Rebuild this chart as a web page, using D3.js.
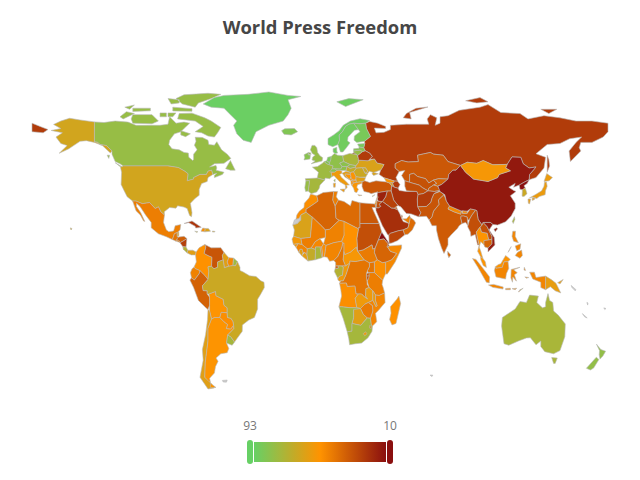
<!DOCTYPE html>
<html>
<head>
<meta charset="utf-8">
<script src="https://d3js.org/d3.v7.min.js"></script>
<style>
html, body { margin: 0; padding: 0; background: #fff; }
svg { display: block; }
</style>
</head>
<body>
<svg id="chart" width="640" height="480"></svg>
<script>
// press freedom score per country
var asiaNames = ["Russia","Turkey","Georgia","Armenia","Azerbaijan","Kazakhstan","Uzbekistan","Turkmenistan","Kyrgyzstan","Tajikistan","Afghanistan","Pakistan","Iran","Iraq","Syria","Lebanon","Israel","Jordan","Saudi Arabia","Yemen","Oman","UAE","Qatar","Kuwait","India","Bangladesh","Nepal","Bhutan","Sri Lanka","China","Mongolia","North Korea","South Korea","Japan","Taiwan","Myanmar","Thailand","Laos","Cambodia","Vietnam","Malaysia","Indonesia","Philippines","Papua New Guinea","Timor-Leste","Cyprus"];
var asiaScores = [24,33,52,60,24,33,31,30,36,33,24,32,21,26,16,44,52,30,20,27,39,45,35,35,34,30,48,50,38,13,54,10,66,57,75,30,52,30,37,14,52,47,47,58,68,70];

var europeNames = ["Norway","Sweden","Finland","Denmark","Iceland","United Kingdom","Ireland","France","Spain","Portugal","Belgium","Netherlands","Germany","Switzerland","Austria","Italy","Poland","Czechia","Slovakia","Hungary","Croatia","Bosnia","Serbia","Montenegro","Albania","North Macedonia","Greece","Bulgaria","Romania","Moldova","Ukraine","Belarus","Lithuania","Latvia","Estonia"];
var europeScores = [91,90,88,90,86,80,84,78,76,80,85,88,82,84,82,56,75,83,78,68,58,52,52,52,51,52,53,60,66,66,62,24,80,84,88];

var africaNames = ["Morocco","Mauritania","Algeria","Tunisia","Libya","Egypt","Sudan","South Sudan","Eritrea","Ethiopia","Djibouti","Somalia","Kenya","Uganda","Tanzania","Rwanda","Burundi","DR Congo","Congo","Gabon","Equatorial Guinea","Cameroon","Central African Rep.","Chad","Niger","Nigeria","Mali","Burkina Faso","Benin","Togo","Ghana","Ivory Coast","Liberia","Sierra Leone","Guinea","Guinea-Bissau","Senegal","Angola","Zambia","Malawi","Mozambique","Zimbabwe","Botswana","Namibia","South Africa","Lesotho","Eswatini","Madagascar"];
var africaScores = [50,62,37,45,39,33,30,44,10,37,22,48,50,42,45,32,30,42,56,72,35,42,54,51,46,47,45,48,50,48,75,68,58,60,47,55,55,50,56,57,47,44,60,76,76,56,45,51];

var americasNames = ["Canada","United States","Greenland","Mexico","Guatemala","Belize","Honduras","El Salvador","Nicaragua","Costa Rica","Panama","Cuba","Jamaica","Haiti","Dominican Rep.","Colombia","Venezuela","Guyana","Suriname","French Guiana","Ecuador","Peru","Bolivia","Chile","Argentina","Paraguay","Uruguay","Brazil"];
var americasScores = [80,64,92,45,42,60,35,44,25,72,60,22,70,50,62,51,32,60,48,78,46,36,52,60,52,50,76,66];

var oceaniaNames = ["Australia","New Zealand"];
var oceaniaScores = [75,81];

// places without a score, drawn grey
var noDataNames = ["Western Sahara","Falkland Is.","Kerguelen","New Caledonia","Vanuatu","Fiji","Solomon Is."];

var legendEnds = [93, 10];
var titleText = "World Press Freedom";

// rough lon,lat outlines, one string per ring
var outlines = {
  "Russia": ["28,59.5 27.8,60.5 31.5,62.8 29,66.5 28.5,69 31,69.8 36,69 41,67.5 41,66.5 34,66.7 35,64.5 40,64.7 44,66 44,68 54,68.5 60,68.5 68,68.5 67,71 69,73 73,71.5 72,68 75,69 75,72 80,72.5 87,75 100,76.5 105,77.7 113,74 125,73.5 130,71 140,72.5 150,71.5 160,70 170,70 180,69 180,65 177,62.5 170,60 163,60 162,57.5 163,56 156.5,51 155.7,56 160,60 163.5,62.5 156,61.7 150,59.5 142,59 135,54.7 141,53 140,48 135,43.5 130.7,42.5 131,45 135,48.5 130.7,48 127,50 125.5,53 120,53.2 117,49.7 108,49.5 102,51.5 98,50.2 92,50.7 87.8,49.2 80,51 77,54 71,54.5 69,55.3 61,54 61.5,51 55,50.8 51,51.5 47,50 47,48 49.5,46.4 47.5,43.5 48.5,41.8 46.5,41.9 40,43.4 37,45 38,47.2 40,49.6 35.6,50.3 34,52.2 30.8,52 32.7,53.4 31,55 28.2,56.1 27.3,57.5",
    "-180,69 -175,67.5 -170,66 -173,64.5 -180,65", "142,54 143,52 143.5,49 142,46 142,50", "52,71.5 57,71 56,74 67.5,76.6 60,76 54,73.5", "91,79.5 100,81 105,79 98,78.5", "138,75.5 148,75.5 143,73.5", "20,54.4 22.7,54.4 22.7,55 20.5,55"],
  "Turkey": ["26.3,41.7 28,42 31,41.2 35,42 41.5,41.5 43.5,41 44.8,39.7 44.5,37.2 42,37.2 36.5,36.5 36,36.8 32,36 30.5,36.5 27.5,37 26.3,39.2 26.3,40.4"],
  "Georgia": ["40,43.4 46.5,41.9 46,41 43.5,41 41.5,41.5"],
  "Armenia": ["43.5,41 45,41.2 46.5,39 44.8,39.7"],
  "Azerbaijan": ["46.5,41.9 48.5,41.8 50,40.3 48.8,38.5 46.5,39 45,41.2 46,41"],
  "Kazakhstan": ["47,50 51,51.5 55,50.8 61.5,51 61,54 69,55.3 71,54.5 77,54 80,51 87.8,49.2 85,47 83,47 80.5,45 80,42.8 74,43 70.8,42.3 68,41 66,43 61,44 58.5,45.5 56,45 56,41.3 53,42 51,44.5 53,46.8 49.5,46.4 47,48"],
  "Uzbekistan": ["56,45 58.5,45.5 61,44 66,43 68,41 70.8,42.3 73,40.8 71,40 68,38.5 67.5,37.3 64,38.8 62,40 56,41.3"],
  "Turkmenistan": ["53,42 56,41.3 62,40 64,38.8 67.5,37.3 64.5,36 61.2,35.6 60.5,37 54,37.3 53,39.5"],
  "Kyrgyzstan": ["70.8,42.3 74,43 80,42.8 76,40.3 73.5,39.5 71,40 73,40.8"],
  "Tajikistan": ["67.5,37.3 68,38.5 71,40 73.5,39.5 75,37.5 71.5,37"],
  "Afghanistan": ["61.2,35.6 64.5,36 67.5,37.3 71.5,37 75,37.5 71.3,36 70,33.8 69.3,31.9 66.5,30 61,29.8 60.8,33.5"],
  "Pakistan": ["61,29.8 66.5,30 69.3,31.9 70,33.8 71.3,36 75,37 77.5,35.5 74,33 74.5,31 71,27.8 70,25 68.2,23.7 66.5,25.4 61.6,25.2 63,27"],
  "Iran": ["44.8,39.7 46.5,39 48.8,38.5 49.5,37.5 54,37 60.5,37 61.2,35.6 60.8,33.5 61,29.8 63,27 61.6,25.2 57,26.5 54,26.7 50.5,29.8 48.8,30.4 46,33 44.5,37.2"],
  "Iraq": ["42,37.2 44.5,37.2 46,33 48.8,30.4 47.7,30 46.5,29.1 44.7,29.2 39,32.3 41,34.5"],
  "Syria": ["36,36.8 36.5,36.5 42,37.2 41,34.5 39,32.3 36.5,32.4 35.8,33.5 35.8,35.7"],
  "Lebanon": ["35.1,33.1 35.8,33.5 36.4,34.5 35.9,34.6"],
  "Israel": ["34.3,31.2 34.9,29.5 35.5,31.5 35.5,33 35.1,33.1"],
  "Jordan": ["35,29.4 36.5,29.3 38,30 37,31 39,32.3 36.5,32.4 35.5,32.7 35.5,31.5"],
  "Saudi Arabia": ["34.9,29.4 36.5,29.3 38,30 37,31 39,32.3 44.7,29.2 46.5,29.1 48.5,28.5 50,26.5 51,24.5 52,22.9 55.7,22 55,20 52,19 49,18.6 44,17.4 43,16.7 42.5,16.5 39,21 37,24.5 35,28"],
  "Yemen": ["43.2,12.7 43,16.7 44,17.4 49,18.6 52,19 53,16.7 48.5,14 45,12.9"],
  "Oman": ["52,19 55,20 55.7,22 56.4,24.9 58.8,23.5 59.8,22.3 57.7,19 55,17 53,16.7"],
  "UAE": ["51.5,24.2 55.7,22 56.4,24.9 56,25.9 54,24.2"],
  "Qatar": ["51,24.6 51.6,25 51.2,26.1 50.8,25.5"],
  "Kuwait": ["47.7,30 48.5,28.5 46.5,29.1"],
  "India": ["68.2,23.7 70,25 71,27.8 74.5,31 74,33 77.5,35.5 79,32.5 81,30.2 80,28.8 84,27.4 88,26.4 88.2,28 89,26.8 92,26.8 94,28.9 97.3,28.3 95,26 93.5,24 92.3,23.5 92,25 89.8,25.5 88.2,25.5 88,24.5 88.8,22 87,21 86,19.8 82,16.7 80,15 80,12 77.5,8 76,10.5 74,15 72.8,19 72.7,21 70,21 69,22.5"],
  "Bangladesh": ["88.2,25.5 89.8,25.5 92,25 92.5,21 91,22.5 88.8,22 88,24.5"],
  "Nepal": ["80,28.8 81,30.2 88.2,27.9 88,26.4 84,27.4"],
  "Bhutan": ["89,26.8 89,28 92,27.8 92,26.8"],
  "Sri Lanka": ["79.8,9 81.8,7.3 80.5,6 79.8,7.5"],
  "China": ["73.7,39.5 76,40.3 80,42.8 80.5,45 83,47 85,47 87.8,49.2 91,46 96,42.8 105,41.7 111,43.5 112,45 119,46.7 116,48 117,49.7 120,53.2 125.5,53 127,50 130.7,48 135,48.5 131,45 130.7,42.5 128,41.5 124.5,40 121,39 122,40.8 118,39 121,37.5 122.5,37 119,35 122,31.5 122,29 119.5,25.5 116,22.8 111,21.3 108,21.6 106.5,22.5 102,22.5 101.3,21.2 98.8,24 98,28 97.3,28.3 94,28.9 92,27.8 89,28 88.2,27.9 81,30.2 79,32.5 78,35.5 75,37",
    "108.7,19.3 110.5,20 111,19.5 109.5,18.2"],
  "Mongolia": ["87.8,49.2 92,50.7 98,50.2 102,51.5 108,49.5 117,49.7 116,48 119,46.7 112,45 111,43.5 105,41.7 96,42.8 91,46"],
  "North Korea": ["124.5,40 128,41.5 130.7,42.5 129.5,40.8 127.5,39.7 128.3,38.6 126.5,37.8 125,38"],
  "South Korea": ["126.5,37.8 128.3,38.6 129.4,36 127.5,34.7 126.3,34.8"],
  "Japan": ["130.9,34 135,35.7 138.5,37.3 140,39.5 140.3,41.3 141.5,41.4 142,39.5 141,37.5 140.7,35.5 137,34.6 135.5,33.7 132.5,34.3", "130,33.5 131.7,33.5 131,31.2 130.2,31.5", "140,41.7 141.7,45.4 145.3,43.5 143.2,42", "132.5,33.8 134.5,34.2 134,33.2 132.7,32.8"],
  "Taiwan": ["120.2,23 121.5,25.2 121.8,24 120.8,22"],
  "Myanmar": ["92.3,20.5 94,18 94.3,16 97,16.9 98.5,12 99.5,12 98.5,15 97.7,18 100,20.3 101.3,21.2 98.8,24 98,28 97.3,28.3 95,26 93.5,24"],
  "Thailand": ["97.7,18 98.5,15 99.5,12 98.5,9 100.3,6.5 101.8,5.7 100.5,9 99.5,11 100.5,13.5 102.5,12 102.5,14 105.5,14.3 104.5,17.5 101,18 100,20.3"],
  "Laos": ["100,20.3 101.3,21.2 102,22.5 104.5,20.5 107.5,16 107.5,14.7 105.5,14.3 104.5,17.5 101,18"],
  "Cambodia": ["102.5,12 103,11 105,10.5 107.5,12.5 107.5,14.7 105.5,14.3 102.5,14"],
  "Vietnam": ["102,22.5 106.5,22.5 108,21.6 105.7,19 108.9,15.5 109.3,12 105,8.7 105,10.5 107.5,12.5 107.5,16 104.5,20.5"],
  "Malaysia": ["100.3,6.5 101.8,5.7 103.4,4 104,1.4 102,2.3 100.5,5", "109.6,1.8 111.5,2.8 113,3.2 116,7 119,5.2 117.5,4.2 115,4 114,1.5 110,1"],
  "Indonesia": ["95.3,5.6 97.5,5.2 104,-1 106,-3 105.8,-5.8 104,-5.5 98.7,1.5", "105.3,-6.8 108.5,-6.5 114.5,-7.7 114.4,-8.7 108,-7.9", "109.6,1.8 110,1 114,1.5 115,4 117.5,4.2 118,1 116.5,-1.5 116,-4 110,-3 109,0", "119.5,0.5 125,1.5 121,0.3 123.3,-1 121.5,-2 122.8,-5 120.5,-3 120.3,-5.5 119.3,-3.5", "131,-0.8 134,-0.8 135,-3.3 141,-2.6 141,-9 138,-8 138,-5.5 133,-4", "116,-8.4 119,-8.3 119,-9 116,-9", "120,-8.5 123,-8.3 122,-9", "124,-10 125,-9 124.5,-10", "127.7,1.5 128.5,0 127.5,0.2", "128,-3 130.5,-3.3 129,-3.6"],
  "Philippines": ["120.5,18.4 122.2,18.4 122,16 124,13 121,13.7 120,16", "122,7 123.5,8.5 126,9.6 126.5,7 125,5.7", "122,11.5 125.5,12.5 125,10 123,9.2", "117.5,8.5 119.5,11.2 118,9"],
  "Papua New Guinea": ["141,-2.6 145,-4.5 147.5,-6 150.5,-10.5 147,-9.5 144,-7.6 141,-9", "148.5,-5.7 152,-4.2 150,-6.3"],
  "Timor-Leste": ["125,-9 127,-8.3 125,-9.5"],
  "Cyprus": ["32.5,34.8 34.5,35.6 33,34.6"],

  "Norway": ["5,59 5,61.8 8.5,63.5 12,65.5 14.5,68 19,70 25,71.1 31,70.2 28.5,69 25,68.7 21,69 18,68.5 16,67.5 14,65 12,63.5 12.2,61 11.2,59 8,58 5.7,58.7", "10.5,79 18,80.5 27,80 20,78 16,76.8"],
  "Sweden": ["11.2,59 12.2,61 12,63.5 14,65 16,67.5 18,68.5 21,69 24,66 21.5,65.7 17.5,62.5 17.2,60.7 18.8,59.8 16.5,57.5 14.3,55.5 12.8,55.5"],
  "Finland": ["21,69 25,68.7 28.5,69 29,66.5 31.5,62.8 27.8,60.5 23,60 21.3,61 21.5,63 25,65 24,66"],
  "Denmark": ["8.2,57 10.5,57.7 10.5,56 11,55 9.5,54.8 8.2,55.5"],
  "Iceland": ["-24,65.5 -22,66.4 -16,66.5 -14,65 -18,63.5 -22.5,63.8"],
  "United Kingdom": ["-5.5,50 1.3,51.3 1.7,52.8 0,53.7 -1.5,55.3 -2,57.5 -3.2,58.6 -5,58.6 -6,56.5 -4.8,54.8 -3,54 -4.5,53.2 -5,51.8 -3,51.3", "-7.5,54.2 -5.5,54.4 -6,55.2 -7.2,55.2"],
  "Ireland": ["-10,51.8 -6.3,52.2 -6,54 -7.5,54.2 -7.2,55.3 -10,54.2 -9.5,53"],
  "France": ["-4.7,48.4 -1.5,48.7 1.5,50.2 2.6,51 4.2,50 8.2,49 7.6,47.6 7,46 7.5,44 6,43 3.2,43.3 3,42.4 -1.7,43.3 -1,46", "8.6,42.2 9.5,42.9 9.4,41.5"],
  "Spain": ["-9.2,43 -1.7,43.3 3,42.4 0,40 -0.5,38.5 -2,36.8 -5.5,36 -7.4,37.2 -7,39.5 -6.5,42 -8.8,42"],
  "Portugal": ["-8.8,42 -6.5,42 -7,39.5 -7.4,37.2 -9,37 -9.5,38.8"],
  "Belgium": ["2.6,51 4.2,51.4 6,50.5 5.8,49.5 4.2,50"],
  "Netherlands": ["4.2,51.4 4.8,53 7,53.4 6.8,52 6,50.5"],
  "Germany": ["6,50.5 6.8,52 7,53.4 9,54.8 11,54 14.2,53.8 14.8,51 12.3,50.3 13.8,48.7 13,47.5 7.6,47.6 8.2,49 5.8,49.5"],
  "Switzerland": ["6,46.2 7.6,47.6 9.6,47.5 10.5,46.7 9,46"],
  "Austria": ["9.6,47.5 13,47.5 13.8,48.7 17,48.7 16.2,46.8 12,46.8 10.5,46.8"],
  "Italy": ["7,46 7.5,44 8.8,44.4 10.5,43 12.5,41.5 15.8,40 16,38 17,39 16.6,40 18.4,40 16,41.9 13.5,43.6 12.3,45 13.7,45.6 13.7,46.5 12,47 10.5,46.8 9,46", "12.5,38 15.6,38.2 15,36.7", "8.3,40.8 9.7,41 9.5,39 8.5,39"],
  "Poland": ["14.2,53.8 18.5,54.8 23,54.3 24,52.5 24,50.5 22.5,49.1 18.8,49.6 14.8,51"],
  "Czechia": ["12.3,50.3 14.8,51 18.8,49.6 17,48.7 13.8,48.7"],
  "Slovakia": ["17,48.7 18.8,49.6 22.5,49.1 22,48.4 18.8,47.8"],
  "Hungary": ["16.2,46.8 17,48.7 18.8,47.8 22,48.4 22.8,48 21,46.2 18.8,45.9"],
  "Croatia": ["13.7,45.5 16.3,46.5 19,45.9 19,45 15.8,45.2 15.8,44.5 18.5,42.5 15.5,43.8 14.5,45"],
  "Bosnia": ["15.8,45.2 19,45 19.4,44 18.5,42.5 15.8,44.5"],
  "Serbia": ["19,45.9 21,46.2 22.5,44.5 22.5,42.5 20.5,42.3 19.3,43.5 19.4,44 19,45"],
  "Montenegro": ["18.5,42.5 19.3,43.5 20.3,42.8 19.3,42"],
  "Albania": ["19.3,42 20.5,42.5 20.8,40.9 20,39.7 19.4,40.5"],
  "North Macedonia": ["20.5,42.3 22.5,42.3 22.8,41.3 20.8,40.9"],
  "Greece": ["20,39.7 20.8,40.9 22.8,41.3 26.3,41.7 26,40.8 23.5,40.2 23,39 24,38 23,36.5 21.7,36.8 21,38.5", "23.6,35.5 26.3,35.2 24.5,35"],
  "Bulgaria": ["22.5,42.5 22.5,44 25,43.7 28.5,43.6 27.8,42 26.3,41.7 22.8,41.3"],
  "Romania": ["21,46.2 22.8,48 26.5,48.2 28.2,45.5 29.7,45.2 28.6,43.8 25,43.7 22.5,44"],
  "Moldova": ["26.5,48.2 28.5,48.1 30,46.4 28.2,45.5"],
  "Ukraine": ["22,48.4 22.5,49.1 24,50.5 24,51.7 30,51.4 34,52.2 35.6,50.3 40,49.6 38.2,47.2 35,46.3 33.5,46 36.5,45.3 33.5,44.5 32.5,45.3 33,46 30.8,46.5 29.7,45.3 28.2,45.5 30,46.4 28.5,48.1 26.5,48.2 22.8,48"],
  "Belarus": ["24,51.7 24,52.5 23.5,53.9 26.6,55.7 28.2,56.1 31,55 32.7,53.4 30.8,52 30,51.4"],
  "Lithuania": ["21,56 25,56.4 26.6,55.7 23.5,53.9 23,54.3 21,55.2"],
  "Latvia": ["21,57 24.3,57.2 24.4,57.9 27.3,57.5 28.2,56.1 26.6,55.7 25,56.4 21,56"],
  "Estonia": ["23.5,59.2 28,59.5 27.3,57.5 24.4,57.9 24,58.4"],

  "Morocco": ["-5.9,35.8 -2,35 -1.2,32.5 -3.5,31.3 -8.7,28.7 -8.7,27.3 -12,26 -13,24.5 -15,24 -14.5,26 -13,27.7 -10,29.5 -9.8,31.5 -6.9,34"],
  "Western Sahara": ["-15,24 -13,24.5 -12,26 -12,23.5 -13,23 -14,22 -17,21.3 -16,23.7"],
  "Mauritania": ["-17,21.3 -14,22 -13,23 -12,23.5 -12,26 -8.7,27.3 -4.8,25 -6,15.5 -12,15 -16.5,16 -16,19"],
  "Algeria": ["-8.7,28.7 -3.5,31.3 -1.2,32.5 -2,35 2,36.5 8.6,37 8,33 9.5,30.2 10,24.5 12,23.5 6,19.3 3.3,19 1.2,20.7 -4.8,25 -8.7,27.3"],
  "Tunisia": ["8.6,37 11,37 10.2,34.5 11.5,33 9.5,30.2 8,33"],
  "Libya": ["9.5,30.2 11.5,33 15,32.3 19,30.3 20,32.8 25,31.7 25,20 24,20 24,19.5 15,23 12,23.5 10,24.5"],
  "Egypt": ["25,31.7 32,31.3 34.3,31.2 34.9,29.5 32.5,29.5 34,27 37,22 25,22"],
  "Sudan": ["25,22 37,22 38.6,18 36.5,14.3 34.5,10.5 33,10 32.5,12 27,9.6 23.5,9 23,15 24,19.5 24,20 25,20"],
  "South Sudan": ["23.5,9 27,9.6 32.5,12 33,10 34.5,10.5 34,8.5 35.8,5 34,4 30.8,3.6 27.5,5"],
  "Eritrea": ["36.5,14.3 38.6,18 43.2,12.7 42.7,12.4 40,14.8"],
  "Ethiopia": ["34.5,10.5 36.5,14.3 40,14.8 42.7,12.4 42.3,11 44,9 48,8 44.9,5 41.9,4 39,3.6 35.8,5 34,8.5"],
  "Djibouti": ["41.8,11 42.7,12.4 43.3,11.5"],
  "Somalia": ["42.3,11 43.5,11.5 51,12 51,10.5 47,4 42,-1.7 41,-1.5 41,3.9 44.9,5 48,8 44,9"],
  "Kenya": ["34,4 35.8,5 39,3.6 41,3.9 41,-1.5 39.2,-4.6 34,-1 34,1"],
  "Uganda": ["30,-1 34,-1 34,1 34,4 30.8,3.6 31,2 29.7,0"],
  "Tanzania": ["30,-1 34,-1 39.2,-4.6 38.8,-6.5 39.5,-8 40.4,-10.5 37,-11.7 34.7,-11.5 33,-9.5 30.7,-8 29.5,-5 30,-3"],
  "Rwanda": ["29,-1.5 30.5,-1 30.8,-2.5 29,-2.7"],
  "Burundi": ["29,-2.7 30.8,-2.5 30,-4.5 29.3,-4.4"],
  "DR Congo": ["12.2,-6 13,-4.8 14.5,-4.8 16.2,-2 17.5,1 18.6,3.5 18.6,4.5 22,4.2 27.5,5 30.8,3.6 31,2 29.7,0 29,-1.5 29,-2.7 29.3,-4.4 29.5,-6.5 30.7,-8 28.7,-8.5 28.5,-12 29.8,-13.4 28,-12.5 26,-11 24,-11 22.5,-11 21.8,-7.3 17,-7.5 16.5,-5.9"],
  "Congo": ["11.2,-4.5 12.2,-5 13,-4.8 14.5,-4.8 16.2,-2 17.5,1 18.6,3.5 16,2.2 13.2,2.2 14.5,1.5 14,-2.2 12,-2.7 11.2,-3.8"],
  "Gabon": ["9,-0.5 9.5,1 11.3,1 11.3,2.2 13.2,2.2 14.5,1.5 14,-2.2 12,-2.7 11.2,-3.8"],
  "Equatorial Guinea": ["9.5,1 11.3,1 11.3,2.2 9.8,2.2"],
  "Cameroon": ["8.6,4.7 9.7,3.9 9.8,2.2 16,2.2 14.5,5 15,9 15,12.9 14.2,12.8 13.5,10.5 11,6.5"],
  "Central African Rep.": ["14.5,5 16,2.2 18.6,3.5 18.6,4.5 22,4.2 27.5,5 23.5,9 22.8,11 18.9,8.6 15.5,7.5 15,9"],
  "Chad": ["14.2,12.8 15,12.9 15,9 15.5,7.5 18.9,8.6 22.8,11 23.5,9 23,15 24,19.5 15,23 14,22.5 15,16.5 13.5,13.7"],
  "Niger": ["3.3,15.4 3.3,19 6,19.3 12,23.5 15,23 15,16.5 13.5,13.7 8.5,13 3.7,11.7 2.2,12.5"],
  "Nigeria": ["2.7,6.4 3.7,11.7 8.5,13 13.5,13.7 14.2,12.8 13.5,10.5 11,6.5 8.6,4.7 6,4.3 4.5,6.2"],
  "Mali": ["-12,15 -6,15.5 -4.8,25 1.2,20.7 3.3,19 3.3,15.4 0,14.9 -3,13.5 -5.5,10.5 -8,10.2 -11.3,12.2"],
  "Burkina Faso": ["-5.5,10.5 -3,13.5 0,14.9 2.2,12.5 1,11 0,11 -2.8,11 -2.8,9.8"],
  "Benin": ["1.7,6.3 2.7,6.4 3.7,11.7 2.2,12.5 1,11"],
  "Togo": ["0.7,6 1.7,6.3 1,11 0,11"],
  "Ghana": ["-3.1,5 1.2,6 0,11 -2.8,11 -2.8,9.8"],
  "Ivory Coast": ["-7.5,4.4 -3.1,5 -2.8,9.8 -5.5,10.5 -8,10.2 -8.3,7.5"],
  "Liberia": ["-11.4,6.9 -7.5,4.4 -8.3,7.5 -9.5,8.5"],
  "Sierra Leone": ["-13.2,8.5 -11.4,6.9 -10.5,8.3 -11.2,10 -12.5,10"],
  "Guinea": ["-15,10.9 -13.2,8.5 -12.5,10 -11.2,10 -10.5,8.3 -9.5,8.5 -8.3,7.5 -8,10.2 -11.3,12.2 -13.7,12.6"],
  "Guinea-Bissau": ["-16.7,12.3 -13.7,12.6 -15,10.9"],
  "Senegal": ["-17.5,14.7 -16.5,16 -12,15 -11.3,12.2 -13.7,12.6 -16.7,12.3"],
  "Angola": ["11.8,-17 13.5,-12 13,-9 12.2,-6 16.5,-5.9 17,-7.5 21.8,-7.3 22.5,-11 24,-11 22,-13 23,-17.5 18.5,-17.4 13.5,-17"],
  "Zambia": ["22,-13 24,-11 26,-11 28,-12.5 29.8,-13.4 28.5,-12 28.7,-8.5 30.7,-8 33,-9.5 33,-14 30.2,-15 28,-15.8 25.3,-17.8 23,-17.5"],
  "Malawi": ["33,-9.5 34.7,-11.5 34.7,-14 35.8,-16.5 35,-17 33,-14"],
  "Mozambique": ["30.2,-15 33,-14 35,-17 35.8,-16.5 34.7,-14 34.7,-11.5 37,-11.7 40.4,-10.5 40.7,-15 36.5,-18.7 34.7,-20 35.5,-24 32.8,-26 32,-25.5 31.5,-22.4 33,-19 32.8,-16.5"],
  "Zimbabwe": ["25.3,-17.8 28,-15.8 30.2,-15 32.8,-16.5 33,-19 31.5,-22.4 29.5,-22.2 27,-20.5"],
  "Botswana": ["20,-18.3 23,-17.5 25.3,-17.8 27,-20.5 29.5,-22.2 25.5,-25.7 23,-25.3 20,-24.8 21,-22 21,-18.3"],
  "Namibia": ["11.8,-17 13.5,-17 18.5,-17.4 23,-17.5 25.3,-17.8 21,-18.3 21,-22 20,-24.8 20,-28.4 17,-28.7 14.5,-22.5"],
  "South Africa": ["17,-28.7 20,-28.4 20,-24.8 23,-25.3 25.5,-25.7 29.5,-22.2 31.5,-22.4 32,-25.5 32.8,-26 32.5,-28.5 30,-31.5 26,-34 22,-34.3 18.5,-34.8 18,-32"],
  "Lesotho": ["27,-29.6 28.5,-28.7 29.4,-29.6 28,-30.6"],
  "Eswatini": ["31,-25.8 32,-26 32,-27.2 31,-27"],
  "Madagascar": ["49.3,-12 50.4,-15.5 47.5,-24.8 45,-25.5 43.5,-23 44.4,-20 44,-17 48,-13.5"],

  "Canada": ["-141,69.6 -135,69.3 -128,70 -120,69.5 -115,68 -108,68 -100,68 -95,68.5 -94,72 -90,69 -85,69.5 -81.5,69 -85,66.5 -87,65 -91,64 -94,61 -94.5,59 -92.5,57 -88,56.5 -85,55.3 -82.3,55 -82,53 -79.5,51.5 -79,52 -79,54.5 -76.8,56.5 -78.5,58.7 -77.5,60.5 -78,62.4 -73.5,62.3 -70,61 -69.5,59 -66,58.7 -64.5,60.3 -61.5,56.5 -58,54.5 -55.7,52.5 -58.5,51 -60,50.2 -66,50 -69,48.5 -65,49.2 -64.5,48 -65,47 -60,46 -61,45 -66,43.5 -66,44.5 -64.5,45.5 -67,45 -67.8,47 -70,46.5 -71,45 -75,45 -79,43.5 -79,42.8 -83,42 -82.5,45.3 -84.5,46.5 -88.5,48.2 -95,49 -123,49 -125,50 -128,51 -130,54.5 -130,56 -133.5,58.5 -137.5,59 -139,60 -141,60.3",
    "-59,47.7 -56,51.5 -53,47 -56,47", "-80,73.7 -72,71.5 -68,70 -62,67 -64,64.5 -66,62.5 -70,63 -74,64.5 -78,65 -73,67.5 -78,70 -89,71 -88,73.5", "-117,69 -105,68.7 -101,70 -105,73 -117,73 -118,71", "-125,72 -121,74.4 -116,73.5 -123,71", "-62,82.5 -70,83 -85,82.3 -90,80.5 -86,78 -78,76.5 -76,78.5 -68,80.5", "-92,76.5 -80,75.8 -80,74.6 -92,74.7", "-95,80.5 -88,80 -88,78.5 -93,78", "-117,76 -106,76 -106,74.8 -117,74.5", "-87,65.5 -81,64 -84,62.7 -87,63.5", "-100,73.8 -96,73.8 -96,72 -100,72", "-95,73.8 -90,73.8 -92,72 -95,72", "-122,76.5 -116,77.5 -119,75.5", "-128,50.5 -123.5,48.5 -125,48.7", "-133,54 -131.5,54 -132,52.5"],
  "United States": ["-123,49 -95,49 -88.5,48.2 -84.5,46.5 -82.5,45.3 -83,42 -79,42.8 -79,43.5 -75,45 -71,45 -70,46.5 -67.8,47 -67,45 -70,43.5 -70.5,41.7 -74,40.7 -75.5,38 -75.5,35.2 -78,33.8 -81,31.5 -80,27 -80.3,25.2 -81.5,25.8 -83,29 -85,29.7 -89,30.3 -90,29.2 -94,29.5 -97.3,27.5 -97.2,26 -99.5,27.5 -101,29.8 -103,29 -106.5,31.8 -111,31.3 -115,32.5 -117.1,32.5 -120.5,34.5 -122.5,37.5 -124.3,40.3 -124,46 -124.7,48.4",
    "-141,69.6 -150,70.5 -156.5,71.3 -162,70 -166.5,68.4 -162,66.5 -165,66 -168,65.6 -161,64.5 -165,62.5 -162,59.5 -158,58.5 -163,54.9 -157,57 -154,58.5 -150,60.5 -146,60.8 -141,60 -136,58.5 -131,55 -130,56 -133.5,58.5 -137.5,59 -139,60 -141,60.3", "-155.9,20 -155,19.6 -155.5,19 -156,19.4", "-67.2,18.5 -65.6,18.3 -65.8,18 -67.2,18"],
  "Greenland": ["-73,78 -66,81 -60,82 -45,82.5 -32,83.6 -20,82 -12,81.5 -20,80 -18,76 -20,73 -23,70 -32,68 -40,65 -43,60 -48,61 -52,64 -54,68 -52,70 -56,73 -60,76 -68,76.5"],
  "Mexico": ["-117.1,32.5 -115,32.5 -111,31.3 -106.5,31.8 -103,29 -101,29.8 -99.5,27.5 -97.2,26 -97.8,22.5 -96,19 -94.5,18.2 -91.5,18.5 -90.5,21 -87,21.5 -87.5,19 -88.3,18.4 -89.2,17.8 -91,17.2 -91.5,16 -92.3,14.5 -96,15.8 -101,17.2 -105.5,20 -105.5,22.5 -109,26 -112.5,30 -114.7,31.5 -114.7,30 -112,27 -109.5,23 -110.3,23.2 -112.3,26 -115,28"],
  "Guatemala": ["-92.3,14.5 -91.5,16 -91,17.2 -89.2,17.8 -89.2,15.9 -88.3,15.7 -89.5,14.3 -90.2,13.8"],
  "Belize": ["-89.2,17.8 -88.3,18.4 -88.2,16.3 -89.2,15.9"],
  "Honduras": ["-89.2,15 -88.3,15.7 -85,16 -83.2,15 -85,14 -87.5,13 -89.5,14.3"],
  "El Salvador": ["-90.2,13.8 -89.5,14.3 -87.8,13.8 -87.8,13.2"],
  "Nicaragua": ["-87.5,13 -85,14 -83.2,15 -83.7,11 -85.7,11.1"],
  "Costa Rica": ["-85.7,11.1 -83.7,11 -82.6,9.5 -83,8.2 -85.5,10"],
  "Panama": ["-83,8.2 -82.6,9.5 -79.5,9.5 -77.4,8.7 -77.8,7.3 -80.5,7.3"],
  "Cuba": ["-85,22 -80,23.2 -74.2,20.2 -77.7,19.9 -78,20.7 -82,22.4"],
  "Jamaica": ["-78.3,18.4 -76.3,18.2 -77,17.8"],
  "Haiti": ["-74.4,18.4 -72,18.1 -71.7,19.7 -73.3,19.9"],
  "Dominican Rep.": ["-71.7,19.7 -72,18.1 -68.4,18.4 -69.8,19.7"],
  "Colombia": ["-77.4,8.7 -75.6,10.6 -72,12.2 -71.3,11 -72.4,8 -70,7 -67.5,6.2 -67.8,2 -70,1.7 -69.5,-0.5 -70,-4.2 -72,-2.3 -75,-0.1 -77.7,0.8 -78.8,1.5 -77.3,4 -77.8,7.3"],
  "Venezuela": ["-71.3,11 -72,12.2 -68,10.6 -62,10.7 -60,8.5 -61,7 -60.5,5 -64,4 -64,1.5 -66.3,0.8 -67.8,2 -67.5,6.2 -70,7 -72.4,8"],
  "Guyana": ["-60,8.5 -57,6 -58,4 -57,2 -59.8,1.3 -60.5,5 -61,7"],
  "Suriname": ["-57,6 -54,5.8 -54.4,2.3 -57,2 -58,4"],
  "French Guiana": ["-54,5.8 -51.6,4.2 -52.8,2.2 -54.4,2.3"],
  "Ecuador": ["-80.3,-3.4 -81,-1 -80,0.8 -78.8,1.5 -77.7,0.8 -75,-0.1 -75.5,-1.5 -78.5,-4.5"],
  "Peru": ["-81.3,-4.5 -80.3,-3.4 -78.5,-4.5 -75.5,-1.5 -75,-0.1 -72,-2.3 -70,-4.2 -73.5,-7.2 -73,-9.4 -70.5,-9.5 -70.5,-11 -69,-12.5 -69,-16.2 -70,-18.3 -71.3,-17.5 -76,-14 -79,-8"],
  "Bolivia": ["-69.5,-11 -65.3,-9.8 -65,-11.8 -60.5,-13.5 -60,-16.3 -58,-17.5 -58,-19.8 -61.7,-19.6 -62.6,-22 -66,-22 -67.8,-22.8 -69,-19 -69,-16.2 -69,-12.5"],
  "Chile": ["-70,-18.3 -69,-19 -67.8,-22.8 -70,-27 -70,-33 -71,-39 -71.7,-43 -72,-50 -69,-52 -66,-55 -70,-55.5 -75,-50 -73,-42 -73.5,-37 -71.5,-30 -70.3,-23"],
  "Argentina": ["-66,-22 -62.6,-22 -60,-24 -57.7,-25.3 -58.5,-27.2 -55.8,-27.4 -54,-25.6 -53.8,-27.2 -57.7,-30.2 -58.4,-34 -57,-36.5 -58,-38.5 -62,-39 -65,-41 -63.7,-42.5 -65.3,-45 -66,-48 -69,-50.5 -68.5,-52.3 -69.5,-52 -72,-50 -71.7,-43 -71,-39 -70,-33 -70,-27 -67.8,-22.8", "-68.5,-52.7 -65,-54.8 -68.5,-54.8"],
  "Paraguay": ["-58,-19.8 -57.8,-22 -55.7,-22.4 -54.3,-24 -54,-25.6 -55.8,-27.4 -58.5,-27.2 -57.7,-25.3 -60,-24 -62.6,-22 -61.7,-19.6"],
  "Uruguay": ["-58.4,-34 -57.7,-30.2 -55.8,-31 -53.4,-33.5 -54.9,-35"],
  "Brazil": ["-51.6,4.2 -50,1.5 -50,0 -48,-0.7 -44,-2.5 -40,-2.8 -37,-4.8 -35,-5.5 -34.8,-8 -37,-11 -39,-13.5 -39,-18 -41,-22 -44.5,-23.2 -48.5,-25.5 -48.6,-28.5 -52,-32 -53.4,-33.5 -55.8,-31 -57.7,-30.2 -53.8,-27.2 -54,-25.6 -54.3,-24 -55.7,-22.4 -57.8,-22 -58,-19.8 -58,-17.5 -60,-16.3 -60.5,-13.5 -65,-11.8 -65.3,-9.8 -69.5,-11 -70.5,-11 -70.5,-9.5 -73,-9.4 -73.5,-7.2 -70,-4.2 -69.5,-0.5 -70,1.7 -67.8,2 -66.3,0.8 -64,1.5 -64,4 -60.5,5 -59.8,1.3 -57,2 -54.4,2.3 -52.8,2.2"],

  "Australia": ["114,-22 113.5,-26 115,-34.3 118,-35 124,-33 129,-31.6 131.5,-31.5 135,-34.8 138,-33 138,-35.6 140.5,-38 146,-39 150,-37.5 153,-31 153.3,-25 149,-21 146,-19 145.5,-15 143.5,-14 142.5,-10.8 141,-15 141,-17 139,-17.5 135.5,-15 136.5,-12 131,-11.5 129,-15 125,-14.5 122,-18 117,-20.5", "144.8,-40.8 148.3,-41 147,-43.5 146,-43.5"],
  "New Zealand": ["172.8,-34.5 175.5,-37 178.5,-37.8 176.8,-40 175,-41.5 174.5,-39.5 174.7,-37.5", "172.7,-40.6 174.3,-41.7 171,-45.7 169,-46.6 166.5,-45.8"],

  "Falkland Is.": ["-61,-51.5 -58,-51.3 -58.5,-52.3 -60.5,-52.2"],
  "Kerguelen": ["68.8,-49 70.5,-49 70,-49.7"],
  "New Caledonia": ["164,-20.2 167,-22.2 165.5,-21.8"],
  "Vanuatu": ["166.8,-15 167.5,-15.2 167.3,-16.2"],
  "Fiji": ["177.4,-17.5 178.7,-17.8 178,-18.3"],
  "Solomon Is.": ["157,-7 160,-9 159.5,-9.5 157.5,-8"]
};

var width = 640, height = 480;
var svg = d3.select("#chart");

// the map is a flat lon/lat grid, squeezed horizontally
var lonScale = d3.scaleLinear().domain([-180, 180]).range([32, 608]);
var latScale = d3.scaleLinear().domain([83.6, -55.5]).range([92, 389]);

var flatGrid = d3.geoTransform({
    point: function(lon, lat) {
        this.stream.point(lonScale(lon), latScale(lat));
    }
});
var path = d3.geoPath(flatGrid);

var color = d3.scaleLinear()
    .domain([93, 51.5, 10])
    .range(["#67d065", "#ff9300", "#8a0f0f"]);

function makeFeature(name, score) {
    var rings = outlines[name].map(function(s) {
        var pts = s.split(" ").map(function(p) { return p.split(",").map(Number); });
        pts.push(pts[0]);
        return [pts];
    });
    return { type: "Feature", properties: { name: name, score: score },
             geometry: { type: "MultiPolygon", coordinates: rings } };
}

var features = [];
noDataNames.forEach(function(name) { features.push(makeFeature(name, null)); });
[[asiaNames, asiaScores], [europeNames, europeScores], [africaNames, africaScores],
 [americasNames, americasScores], [oceaniaNames, oceaniaScores]].forEach(function(group) {
    group[0].forEach(function(name, i) { features.push(makeFeature(name, group[1][i])); });
});

svg.append("g").selectAll("path").data(features)
    .enter().append("path")
    .attr("d", path)
    .attr("fill", function(d) { return d.properties.score === null ? "#cccccc" : color(d.properties.score); })
    .attr("stroke", "#b8b8b8")
    .attr("stroke-width", 0.6)
    .attr("stroke-linejoin", "round");

svg.append("text")
    .attr("x", 320).attr("y", 34)
    .attr("text-anchor", "middle")
    .attr("font-family", "'Open Sans', sans-serif")
    .attr("font-size", 18.4)
    .attr("font-weight", 700)
    .attr("fill", "#464646")
    .text(titleText);

// visual map legend
var legendX = d3.scaleLinear().domain(legendEnds).range([254, 386]);
var gradient = svg.append("defs").append("linearGradient").attr("id", "legendGrad");
d3.range(0, 1.01, 0.1).forEach(function(t) {
    gradient.append("stop")
        .attr("offset", t)
        .attr("stop-color", color(legendEnds[0] + t * (legendEnds[1] - legendEnds[0])));
});
svg.append("rect")
    .attr("x", legendX(legendEnds[0])).attr("y", 442)
    .attr("width", legendX(legendEnds[1]) - legendX(legendEnds[0])).attr("height", 20)
    .attr("fill", "url(#legendGrad)");

var legend = svg.append("g").selectAll("g").data(legendEnds).enter().append("g");
legend.append("rect")
    .attr("x", function(d, i) { return legendX(d) + (i === 0 ? -7 : 1); })
    .attr("y", 440).attr("width", 6).attr("height", 24).attr("rx", 3)
    .attr("fill", function(d) { return color(d); });
legend.append("text")
    .attr("x", function(d, i) { return legendX(d) + (i === 0 ? -4 : 4); })
    .attr("y", 430)
    .attr("text-anchor", "middle")
    .attr("font-family", "'Open Sans', sans-serif")
    .attr("font-size", 12)
    .attr("fill", "#777777")
    .text(function(d) { return d; });
</script>
</body>
</html>
